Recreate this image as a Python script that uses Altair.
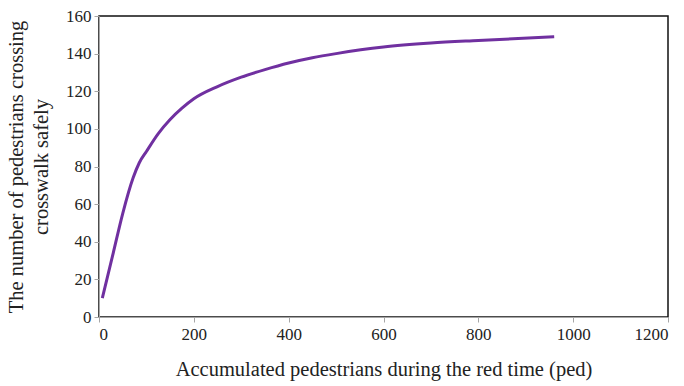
import altair as alt
import pandas as pd

accumulated = [7, 30, 50, 72, 85, 100, 125, 150, 175, 200, 250, 300, 350, 400, 450, 500, 600, 700, 800, 960]
crossing_safely = [10, 34, 55, 74, 82, 88, 97.5, 105, 111, 116, 122.5, 127.5, 131.5, 135, 137.8, 140, 143.5, 145.6, 147, 149]

df = pd.DataFrame({"x": accumulated, "y": crossing_safely})

FONT = "Liberation Serif"
GRAY = "#a6a6a6"
TEXT = "#222222"

chart = (
    alt.Chart(df)
    .mark_line(color="#7030a0", strokeWidth=3, interpolate="monotone")
    .encode(
        x=alt.X(
            "x:Q",
            scale=alt.Scale(domain=[0, 1200], nice=False),
            axis=alt.Axis(
                values=[0, 200, 400, 600, 800, 1000, 1200],
                format="d",
                title="Accumulated pedestrians during the red time (ped)",
                grid=False,
                domainColor=GRAY,
                tickColor=GRAY,
                tickSize=5,
                labelFont=FONT,
                labelFontSize=17,
                labelColor=TEXT,
                labelPadding=4,
                titleFont=FONT,
                titleFontSize=20.5,
                titleFontWeight="normal",
                titleColor=TEXT,
                titlePadding=17,
            ),
        ),
        y=alt.Y(
            "y:Q",
            scale=alt.Scale(domain=[0, 160], nice=False),
            axis=alt.Axis(
                values=[0, 20, 40, 60, 80, 100, 120, 140, 160],
                format="d",
                title=["The number of pedestrians crossing", "crosswalk safely"],
                grid=False,
                domainColor=GRAY,
                tickColor=GRAY,
                tickSize=5,
                labelFont=FONT,
                labelFontSize=17,
                labelColor=TEXT,
                labelPadding=3,
                titleFont=FONT,
                titleFontSize=20.5,
                titleFontWeight="normal",
                titleColor=TEXT,
                titleLineHeight=25,
                titlePadding=14,
            ),
        ),
    )
    .properties(
        width=569,
        height=301,
        autosize=alt.AutoSizeParams(type="none"),
        padding={"left": 99, "top": 16, "right": 16, "bottom": 69},
        background="white",
    )
    .configure_view(stroke="#111111", strokeWidth=1.5)
)

chart.save("out.html", embed_options={"renderer": "svg", "actions": False})
